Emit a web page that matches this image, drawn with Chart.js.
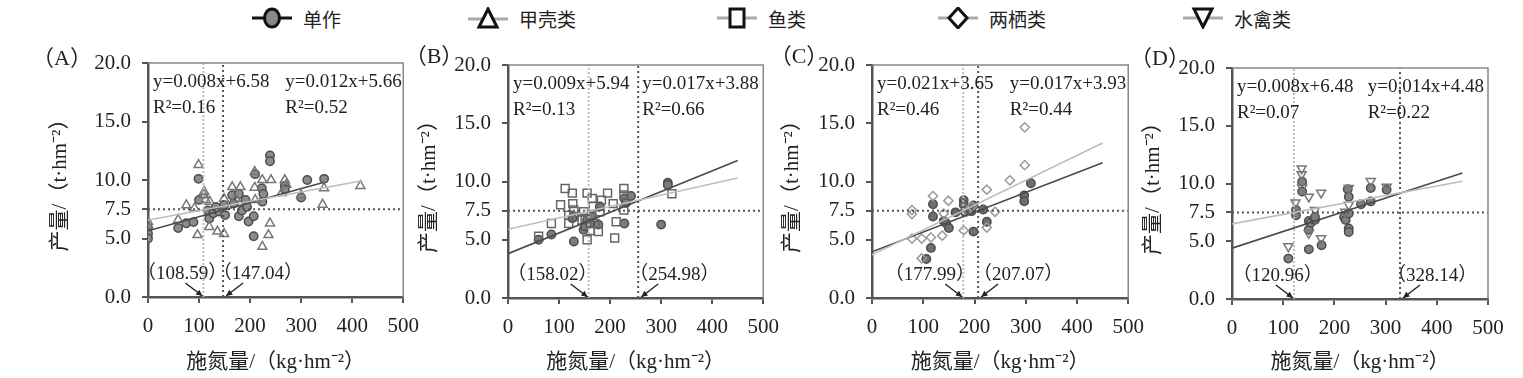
<!DOCTYPE html>
<html lang="zh-CN">
<head>
<meta charset="UTF-8">
<title>施氮量与产量</title>
<script src="https://cdn.jsdelivr.net/npm/chart.js"></script>
<style>
  body { margin: 0; width: 1523px; height: 378px; background: #fff; position: relative; overflow: hidden; }
  canvas { position: absolute; top: 0; }
  .lg { position: absolute; top: 7px; height: 22px; display: flex; align-items: center; font-family: 'Noto Sans CJK SC', sans-serif; font-size: 19px; color: #222; }
  .lg svg { margin-right: 11px; }
</style>
</head>
<body>
<div id="legend"></div>
<canvas id="cA" width="410" height="378" style="left:20px"></canvas>
<canvas id="cB" width="395" height="378" style="left:395px"></canvas>
<canvas id="cC" width="395" height="378" style="left:760px"></canvas>
<canvas id="cD" width="395" height="378" style="left:1120px"></canvas>
<script>
// ---- 数据 ----
const xTicks = [0, 100, 200, 300, 400, 500];
const yTicks = [0, 5, 7.5, 10, 15, 20];
const legendNames = ['单作', '甲壳类', '鱼类', '两栖类', '水禽类'];
const panelLabels = ['（A）', '（B）', '（C）', '（D）'];
const yTitle = '产量/（t·hm⁻²）';
const xTitle = '施氮量/（kg·hm⁻²）';

// 单作 vs 甲壳类
const monoA = [[0,5.9],[0,5.4],[0,5.0],[59,5.9],[75,6.3],[89,6.4],[99,10.1],[100,8.3],[117,7.4],[120,6.7],[128,7.15],[133,7.7],[139,7.3],[149,7.85],[151,7.0],[165,8.7],[168,8.0],[178,8.8],[178,6.9],[184,7.4],[191,8.3],[194,7.7],[197,6.45],[207,6.9],[207,5.2],[210,10.5],[223,9.3],[224,8.15],[226,8.8],[239,12.1],[239,11.6],[268,9.5],[268,9.2],[300,8.5],[312,10.0],[345,10.1]];
const crustA = [[0,6.15],[0,6.45],[59,6.6],[75,7.85],[91,7.6],[99,11.3],[97,5.3],[110,9.0],[110,8.7],[113,8.3],[120,6.0],[121,8.15],[136,5.6],[149,5.4],[149,8.4],[165,9.4],[172,8.4],[181,9.4],[209,10.7],[209,9.35],[210,8.3],[224,10.0],[224,4.3],[236,5.3],[239,6.3],[241,10.0],[262,8.9],[268,10.0],[271,9.6],[300,8.7],[342,7.9],[345,9.3],[416,9.5]];
// 单作 vs 鱼类
const monoB = [[60,5.0],[85,5.45],[126,6.85],[129,4.85],[148,5.85],[151,6.15],[155,6.7],[161,6.4],[164,7.0],[177,6.3],[180,7.85],[228,6.4],[228,8.55],[231,8.15],[241,8.75],[300,6.3],[313,9.9],[313,9.7]];
const fishB = [[60,5.3],[85,6.4],[103,8.0],[112,9.4],[119,7.1],[119,6.4],[126,9.0],[127,8.1],[129,7.55],[129,7.0],[145,6.7],[148,7.4],[151,6.85],[155,9.0],[155,5.0],[161,5.8],[165,8.55],[167,7.85],[170,6.4],[177,5.7],[180,7.4],[183,8.4],[195,9.0],[206,8.1],[209,5.15],[212,6.55],[227,9.4],[227,8.85],[227,7.55],[321,8.95]];
// 单作 vs 两栖类
const monoC = [[106,3.35],[115,4.3],[119,8.05],[119,7.0],[140,6.6],[145,6.4],[150,6.0],[163,7.35],[179,8.4],[179,8.0],[181,7.4],[194,7.45],[198,7.95],[198,5.7],[217,7.6],[224,6.55],[297,8.8],[297,8.3],[310,9.85]];
const amphC = [[78,7.55],[78,7.2],[78,5.1],[97,5.1],[97,3.4],[115,5.2],[119,8.75],[137,5.35],[140,7.25],[149,8.35],[179,5.8],[185,7.4],[195,7.85],[224,9.3],[224,6.05],[240,7.4],[269,10.1],[298,14.65],[298,11.4]];
// 单作 vs 水禽类
const monoD = [[110,3.5],[125,7.7],[125,7.25],[137,10.15],[137,9.3],[150,6.75],[150,6.0],[150,4.3],[154,6.6],[162,6.85],[162,7.1],[175,4.65],[219,7.1],[222,6.85],[226,9.5],[228,8.85],[228,7.4],[228,6.1],[228,5.8],[252,8.2],[271,9.6],[271,8.45],[302,9.45]];
const fowlD = [[110,4.55],[124,8.35],[136,11.3],[136,10.8],[137,9.65],[150,8.85],[150,5.7],[162,7.7],[174,9.2],[174,5.25],[221,7.55],[228,9.6],[228,8.15],[271,10.2],[302,9.7]];

// 拟合线端点（浅色 = 左式，深色 = 右式）
const fitLight = [[[0,6.58],[420,9.94]], [[0,5.9],[450,10.3]], [[0,3.7],[450,13.3]], [[0,6.5],[450,10.2]]];
const fitDark = [[[0,5.66],[345,9.8]], [[0,3.8],[450,11.8]], [[0,3.97],[450,11.6]], [[0,4.4],[450,10.9]]];
const thresholds = [[108.59, 147.04], [158.02, 254.98], [177.99, 207.07], [120.96, 328.14]];
const yieldLevel = 7.5;
const eqLeft = ['y=0.008x+6.58', 'y=0.009x+5.94', 'y=0.021x+3.65', 'y=0.008x+6.48'];
const r2Left = ['R²=0.16', 'R²=0.13', 'R²=0.46', 'R²=0.07'];
const eqRight = ['y=0.012x+5.66', 'y=0.017x+3.88', 'y=0.017x+3.93', 'y=0.014x+4.48'];
const r2Right = ['R²=0.52', 'R²=0.66', 'R²=0.44', 'R²=0.22'];

// ---- 版式 ----
const serif = "'Liberation Serif', 'Noto Sans CJK SC', serif";
const panels = [
  { id: 'cA', left: 20, width: 410, area: { l: 148, t: 63, r: 406, b: 297 }, titleX: 60, eqRX: 269, labX: [67, 215], tagX: 62, tagY: 59 },
  { id: 'cB', left: 395, width: 395, area: { l: 508, t: 65, r: 768, b: 298 }, titleX: 429, eqRX: 263, labX: [87, 326], tagX: 434, tagY: 57 },
  { id: 'cC', left: 760, width: 395, area: { l: 872, t: 65, r: 1132, b: 298 }, titleX: 792, eqRX: 269, labX: [113, 285], tagX: 799, tagY: 57 },
  { id: 'cD', left: 1120, width: 395, area: { l: 1232, t: 68, r: 1488, b: 299 }, titleX: 1153, eqRX: 265, labX: [89, 391], tagX: 1160, tagY: 59 }
];
const others = [crustA, fishB, amphC, fowlD];
const monos = [monoA, monoB, monoC, monoD];
const otherStyles = [
  { pointStyle: 'triangle', pointRadius: 5.2, borderColor: '#777', rotation: 0 },
  { pointStyle: 'rect', pointRadius: 5.6, borderColor: '#666', rotation: 0 },
  { pointStyle: 'rectRot', pointRadius: 4.6, borderColor: '#999', rotation: 0 },
  { pointStyle: 'triangle', pointRadius: 5.2, borderColor: '#777', rotation: 180 }
];
const monoFill = ['#8c8c8c', '#7d7d7d', '#6e6e6e', '#808080'];

const toXY = arr => arr.map(p => ({ x: p[0], y: p[1] }));

function arrow(ctx, x1, y1, x2, y2) {
  ctx.beginPath(); ctx.moveTo(x1, y1); ctx.lineTo(x2, y2); ctx.stroke();
  const a = Math.atan2(y2 - y1, x2 - x1), h = 7;
  ctx.beginPath(); ctx.moveTo(x2, y2);
  ctx.lineTo(x2 - h * Math.cos(a - 0.45), y2 - h * Math.sin(a - 0.45));
  ctx.lineTo(x2 - h * Math.cos(a + 0.45), y2 - h * Math.sin(a + 0.45));
  ctx.closePath(); ctx.fill();
}

const decor = {
  id: 'decor',
  afterDatasetsDraw(chart, args, opts) {
    const i = opts.index, p = panels[i];
    const { ctx, chartArea: ca, scales } = chart;
    const sx = scales.x, sy = scales.y;
    ctx.save();
    // 上、右边框
    ctx.strokeStyle = '#888'; ctx.lineWidth = 1.5;
    ctx.beginPath(); ctx.moveTo(ca.left, ca.top); ctx.lineTo(ca.right, ca.top); ctx.lineTo(ca.right, ca.bottom); ctx.stroke();
    ctx.fillStyle = '#222';
    ctx.textBaseline = 'middle';
    ctx.font = '19px ' + serif;
    ctx.textAlign = 'left';
    ctx.fillText(eqLeft[i], ca.left + 5, ca.top + 19);
    ctx.fillText(r2Left[i], ca.left + 5, ca.top + 45);
    const rx = sx.getPixelForValue(p.eqRX);
    ctx.fillText(eqRight[i], rx, ca.top + 19);
    ctx.fillText(r2Right[i], rx, ca.top + 45);
    // 阈值标注
    ctx.font = '19px ' + serif;
    ctx.textAlign = 'center';
    const ly = ca.bottom - 23;
    thresholds[i].forEach((v, k) => {
      ctx.fillText('（' + v.toFixed(2) + '）', sx.getPixelForValue(p.labX[k]), ly);
    });
    ctx.strokeStyle = '#222'; ctx.lineWidth = 1.4;
    const t0 = sx.getPixelForValue(thresholds[i][0]) - 1;
    const t1 = sx.getPixelForValue(thresholds[i][1]) + 3;
    const by = sy.getPixelForValue(0) - 1;
    arrow(ctx, t0 - 17, by - 13, t0, by);
    arrow(ctx, t1 + 17, by - 13, t1, by);
    // 面板编号
    ctx.font = '22px ' + serif;
    ctx.fillText(panelLabels[i], p.tagX - p.left, p.tagY);
    ctx.restore();
  }
};

panels.forEach((p, i) => {
  const a = p.area;
  const yWidth = a.l - p.left - (p.titleX - 12.6 - p.left);
  const xHeight = 375 - a.b;
  const dotted = (x1, y1, x2, y2, color, dash) => ({
    type: 'line', data: [{ x: x1, y: y1 }, { x: x2, y: y2 }], borderColor: color, borderWidth: 2,
    borderDash: dash, pointRadius: 0, fill: false, order: 2
  });
  const fit = (pts, color) => ({
    type: 'line', data: toXY(pts), borderColor: color, borderWidth: 1.6, pointRadius: 0, fill: false, order: 1
  });
  const st = otherStyles[i];
  new Chart(document.getElementById(p.id), {
    type: 'scatter',
    data: {
      datasets: [
        fit(fitLight[i], '#bdbdbd'),
        fit(fitDark[i], '#4a4a4a'),
        dotted(thresholds[i][0], 0, thresholds[i][0], 20, '#bdbdbd', [2, 2]),
        dotted(thresholds[i][1], 0, thresholds[i][1], 20, '#555', [2, 3]),
        dotted(0, yieldLevel, 500, yieldLevel, '#555', [2, 3]),
        {
          label: legendNames[i + 1], data: toXY(others[i]), order: 3,
          pointStyle: st.pointStyle, pointRadius: st.pointRadius, rotation: st.rotation,
          backgroundColor: 'rgba(255,255,255,0)', borderColor: st.borderColor, borderWidth: 1.5
        },
        {
          label: legendNames[0], data: toXY(monos[i]), order: 3,
          pointStyle: 'circle', pointRadius: 4.2,
          backgroundColor: monoFill[i], borderColor: '#4d4d4d', borderWidth: 1.5
        }
      ]
    },
    options: {
      responsive: false, animation: false, devicePixelRatio: 1,
      layout: { padding: { left: p.titleX - 12.6 - p.left, top: a.t, right: p.left + p.width - a.r, bottom: 3 } },
      plugins: { legend: { display: false }, tooltip: { enabled: false }, decor: { index: i } },
      scales: {
        x: {
          type: 'linear', min: 0, max: 500,
          afterBuildTicks: s => { s.ticks = xTicks.map(v => ({ value: v })); },
          afterFit: s => { s.height = xHeight; },
          grid: { display: true, drawOnChartArea: false, drawTicks: true, tickLength: 6, color: '#555', lineWidth: 2 },
          border: { display: true, color: '#555', width: 2.5 },
          ticks: { padding: 11, color: '#222', font: { family: serif, size: 21 }, maxRotation: 0, autoSkip: false },
          title: { display: true, text: xTitle, color: '#222', padding: 0, font: { family: serif, size: 21 } }
        },
        y: {
          type: 'linear', min: 0, max: 20,
          afterBuildTicks: s => { s.ticks = yTicks.map(v => ({ value: v })); },
          afterFit: s => { s.width = yWidth; },
          grid: { display: true, drawOnChartArea: false, drawTicks: true, tickLength: 6, color: '#555', lineWidth: 2 },
          border: { display: true, color: '#555', width: 2.5 },
          ticks: { padding: 11, color: '#222', font: { family: serif, size: 21 }, autoSkip: false, callback: v => Number(v).toFixed(1) },
          title: { display: true, text: yTitle, color: '#222', padding: 0, font: { family: serif, size: 21 } }
        }
      }
    },
    plugins: [decor]
  });
});

// ---- 图例 ----
const legendLeft = [252, 468, 717, 938, 1183];
const icons = [
  '<line x1="0" y1="11" x2="40" y2="11" stroke="#111" stroke-width="3"/><ellipse cx="20" cy="11" rx="7.5" ry="9" fill="#888" stroke="#111" stroke-width="3"/>',
  '<line x1="0" y1="12" x2="40" y2="12" stroke="#aaa" stroke-width="3"/><polygon points="20,2 29,20 11,20" fill="#fff" stroke="#111" stroke-width="3"/>',
  '<line x1="0" y1="11" x2="40" y2="11" stroke="#aaa" stroke-width="3"/><rect x="13" y="2" width="14" height="18" fill="#fff" stroke="#111" stroke-width="3"/>',
  '<line x1="0" y1="11" x2="40" y2="11" stroke="#aaa" stroke-width="3"/><polygon points="20,1 29,11 20,21 11,11" fill="#fff" stroke="#111" stroke-width="3"/>',
  '<line x1="0" y1="11" x2="40" y2="11" stroke="#aaa" stroke-width="3"/><polygon points="11,2 29,2 20,20" fill="#fff" stroke="#111" stroke-width="3"/>'
];
const lg = document.getElementById('legend');
legendNames.forEach((name, i) => {
  const d = document.createElement('div');
  d.className = 'lg';
  d.style.left = legendLeft[i] + 'px';
  d.innerHTML = '<svg width="40" height="22" viewBox="0 0 40 22">' + icons[i] + '</svg><span>' + name + '</span>';
  lg.appendChild(d);
});
</script>
</body>
</html>
